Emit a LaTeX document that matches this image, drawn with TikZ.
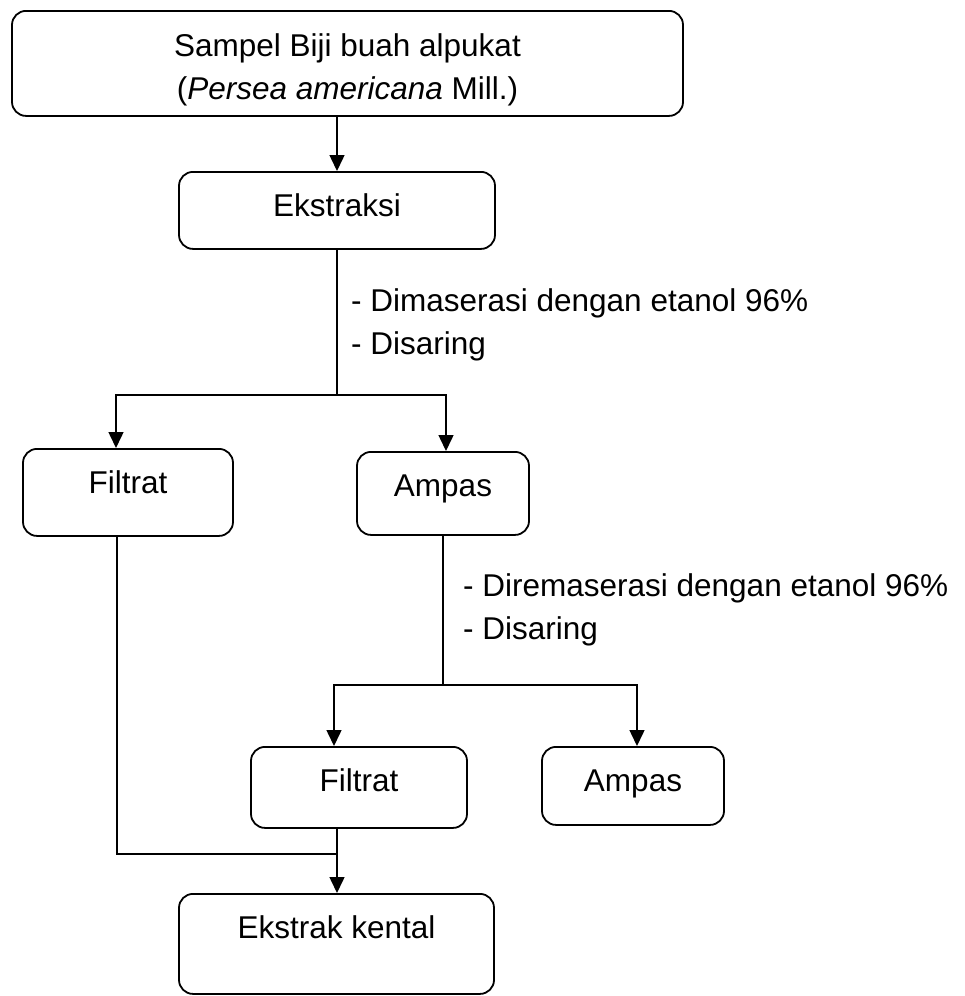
\documentclass[tikz,border=0pt]{standalone}
\usepackage{fontspec}
\setmainfont{Liberation Sans}
\usetikzlibrary{arrows.meta}

\begin{document}
\begin{tikzpicture}[x=1pt,y=-1pt,
    every node/.style={font=\fontsize{31.5}{43}\selectfont},
    box/.style={draw, line width=1.8pt, rounded corners=14pt, inner sep=0pt, align=center, anchor=north, text height=45pt},
    note/.style={anchor=base west, align=left, inner sep=0pt},
    arr/.style={line width=1.5pt, -{Triangle[length=16pt,width=15pt]}},
    link/.style={line width=1.5pt}]
    \useasboundingbox (0,0) rectangle (964,996);
    \node[box, minimum width=671pt, text height=89pt, text depth=16pt] (sampel) at (347.5,10) {Sampel Biji buah alpukat\\(\textit{Persea americana} Mill.)};
    \node[box, minimum width=316pt, text depth=32pt] (ekstraksi) at (337,171) {Ekstraksi};
    \node[box, minimum width=210pt, text depth=42pt] (filtrat1) at (128,448) {Filtrat};
    \node[box, minimum width=172pt, text depth=38pt] (ampas1) at (443,451) {Ampas};
    \node[box, minimum width=216pt, text depth=36pt] (filtrat2) at (359,746) {Filtrat};
    \node[box, minimum width=182pt, text depth=33pt] (ampas2) at (633,746) {Ampas};
    \node[box, minimum width=315pt, text depth=55pt] (ekstrak) at (336.5,893) {Ekstrak kental};
    \node[note] (maserasi) at (351,354) {- Dimaserasi dengan etanol 96\%\\- Disaring};
    \node[note] (remaserasi) at (463,639) {- Diremaserasi dengan etanol 96\%\\- Disaring};
    \coordinate (split1) at (337,395);
    \coordinate (split2) at (443,685);
    \coordinate (join) at (337,854);
    \draw[arr] (ekstraksi.north |- sampel.south) -- (ekstraksi.north);
    \draw[link] (ekstraksi.south) -- (split1);
    \draw[arr] (split1) -| ([xshift=-12pt]filtrat1.north);
    \draw[arr] (split1) -| ([xshift=3pt]ampas1.north);
    \draw[link] (ampas1.south) -- (split2);
    \draw[arr] (split2) -| ([xshift=-25pt]filtrat2.north);
    \draw[arr] (split2) -| ([xshift=4pt]ampas2.north);
    \draw[link] ([xshift=-11pt]filtrat1.south) |- (join);
    \draw[arr] (join |- filtrat2.south) -- (join |- ekstrak.north);
\end{tikzpicture}
\end{document}
